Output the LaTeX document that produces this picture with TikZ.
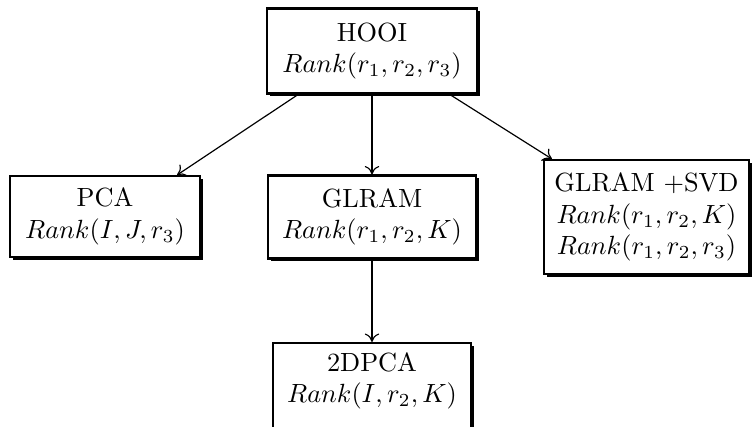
\documentclass[tikz,border=0pt]{standalone}
\usetikzlibrary{shadows,arrows.meta}
\begin{document}
\begin{tikzpicture}[x=0.38pt,y=-0.38pt,
  sbox/.style={draw=black, line width=0.8pt, fill=white, align=center,
    drop shadow={shadow xshift=1.0pt, shadow yshift=-1.0pt, fill=black, opacity=1}},
  conn/.style={line width=0.45pt, -{To[length=3.2pt,width=5.5pt]}}]
\clip (0,0) rectangle (754,426);
\fill[white] (0,0) rectangle (754,426);
\node[sbox, minimum width=210*0.38pt, minimum height=85*0.38pt] (hooi) at (372,51) {HOOI\\ $Rank(r_1,r_2,r_3)$};
\node[sbox, minimum width=190*0.38pt, minimum height=81*0.38pt] (pca) at (105,216.5) {PCA\\ $Rank(I,J,r_3)$};
\node[sbox, minimum width=208*0.38pt, minimum height=83*0.38pt] (glram) at (372,217) {GLRAM\\ $Rank(r_1,r_2,K)$};
\node[sbox, minimum width=205*0.38pt, minimum height=114*0.38pt] (svd) at (646.5,217) {GLRAM +SVD\\ $Rank(r_1,r_2,K)$\\ $Rank(r_1,r_2,r_3)$};
\node[sbox, minimum width=198*0.38pt, minimum height=86*0.38pt] (twod) at (372,386) {};
\node[align=center] (twodtext) at (372,381) {2DPCA\\ $Rank(I,r_2,K)$};
\draw[conn] (hooi.south) -- (glram.north);
\draw[conn] ([xshift=-28.1pt]hooi.south) -- ([xshift=27.4pt]pca.north);
\draw[conn] ([xshift=29.6pt]hooi.south) -- ([xshift=3.4pt]svd.north west);
\draw[conn] (glram.south) -- (twod.north);
\end{tikzpicture}
\end{document}
